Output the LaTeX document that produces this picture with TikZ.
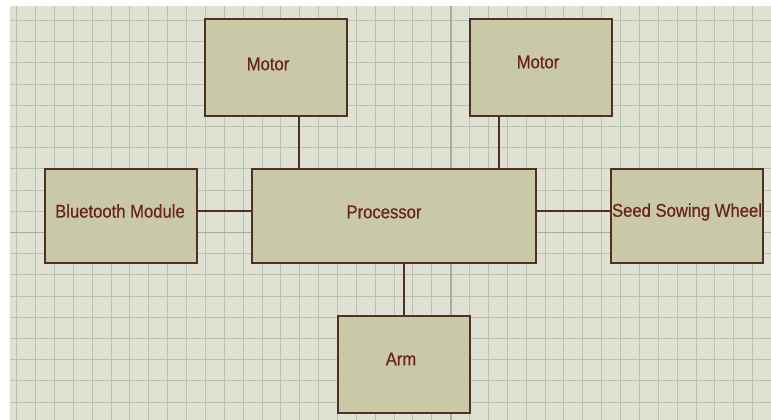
\documentclass[tikz,border=0pt]{standalone}
\usepackage{fontspec}
\usetikzlibrary{calc}
\newfontfamily\boxfont[FakeStretch=0.9,FakeBold=0.6]{Liberation Sans}
\definecolor{gridbg}{RGB}{223,225,211}
\definecolor{gridline}{RGB}{188,193,178}
\definecolor{gridmajor}{RGB}{168,173,158}
\definecolor{boxfill}{RGB}{201,201,167}
\definecolor{boxline}{RGB}{78,48,38}
\definecolor{lblcol}{RGB}{105,36,28}
\begin{document}
\begin{tikzpicture}[x=1pt,y=-1pt,
  box/.style={draw=boxline, line width=2pt, fill=boxfill, inner sep=0pt},
  lbl/.style={font=\boxfont\fontsize{18.5}{20}\selectfont, text=lblcol, inner sep=0pt},
  wire/.style={draw=boxline, line width=2pt}]
\useasboundingbox (0,0) rectangle (771,420);
\fill[white] (0,0) rectangle (771,420);
\fill[gridbg] (10,6) rectangle (771,420);
\foreach \i in {0,...,39} \draw[gridline, line width=1pt] ({16.7+18.87*\i},6) -- ({16.7+18.87*\i},420);
\foreach \j in {0,...,18} \draw[gridline, line width=1pt] (10,{20.5+21.2*\j}) -- (771,{20.5+21.2*\j});
\draw[gridmajor, line width=1.6pt] ({16.7+18.87*23},6) -- ({16.7+18.87*23},420);
\draw[gridmajor, line width=1.6pt] (10,{20.5+21.2*10}) -- (771,{20.5+21.2*10});

\node[box, minimum width=142pt, minimum height=97pt] (motor1) at (276,67.5) {};
\node[box, minimum width=142pt, minimum height=97pt] (motor2) at (541,67.5) {};
\node[box, minimum width=284pt, minimum height=94pt] (proc) at (394,216) {};
\node[box, minimum width=152pt, minimum height=94pt] (bt) at (121,216) {};
\node[box, minimum width=152pt, minimum height=94pt] (seed) at (687,216) {};
\node[box, minimum width=132pt, minimum height=97pt] (arm) at (404,364.5) {};

\draw[wire] ($(motor1.south)+(23,0)$) coordinate (c1) -- (c1 |- proc.north);
\draw[wire] ($(motor2.south)+(-42,0)$) coordinate (c2) -- (c2 |- proc.north);
\draw[wire] ($(bt.east)+(0,-5)$) coordinate (c3) -- (c3 -| proc.west);
\draw[wire] ($(proc.east)+(0,-5)$) coordinate (c4) -- (c4 -| seed.west);
\draw[wire] (arm.north) -- (arm.north |- proc.south);

\node[lbl] (tm1) at (268,64) {Motor};
\node[lbl] (tm2) at (538,62) {Motor};
\node[lbl] (tbt) at (120,211) {Bluetooth Module};
\node[lbl] (tp) at (384,212) {Processor};
\node[lbl] (ts) at (687,212) {Seed Sowing Wheel};
\node[lbl] (ta) at (401,359) {Arm};
\end{tikzpicture}
\end{document}
